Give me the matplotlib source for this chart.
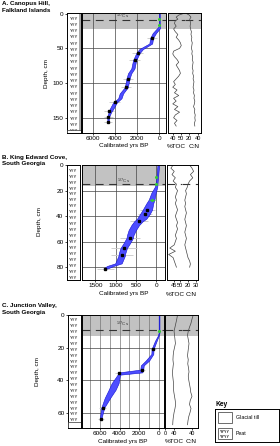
import numpy as np
import matplotlib
matplotlib.use("Agg")
import matplotlib.pyplot as plt
from matplotlib.patches import Rectangle

plt.rcParams['font.family'] = ['Liberation Sans', 'DejaVu Sans']

# ---------------- data ----------------
# A. Canopus Hill
a_depth = [0, 18, 21, 28, 35, 43, 51, 57, 67, 79, 86, 94, 106, 115, 122, 128, 137, 142, 149, 157]
a_young = [-40, -40, -60, 300, 560, 640, 1470, 1780, 2080, 2230, 2520, 2680, 2830, 3250, 3400, 3820, 4130, 4330, 4520, 4560]
a_old = [40, 40, 200, 600, 820, 900, 1800, 2080, 2360, 2520, 2820, 2960, 3100, 3560, 3700, 4150, 4450, 4560, 4680, 4660]
a_date_depth = [35, 57, 67, 94, 106, 128, 140, 149, 156]
a_date_age = [690, 1930, 2220, 2820, 2960, 3990, 4480, 4590, 4600]
a_date_err = [450, 500, 500, 450, 450, 500, 450, 400, 350]
a_pb_depth = [8, 16]
a_pb_age = [0, 0]
a_geo_depth = [0, 2, 5, 8, 10, 14, 18, 22, 26, 30, 34, 38, 42, 46, 50, 54, 58, 62, 66, 70, 74, 78,
               82, 86, 90, 94, 98, 102, 106, 110, 114, 118, 122, 126, 130, 134, 138, 142, 146, 150, 154, 158, 162]
a_toc = [52, 47, 44, 46, 43, 42, 44, 41, 43, 46, 44, 47, 49, 50, 48, 41, 40, 42, 45, 47, 44, 46,
         48, 49, 47, 44, 41, 43, 40, 45, 42, 47, 41, 44, 40, 46, 42, 48, 43, 41, 45, 42, 44]
a_cn = [14, 20, 24, 21, 22, 23, 22, 23, 25, 24, 26, 25, 27, 26, 25, 27, 26, 28, 27, 29, 28, 27,
        29, 28, 30, 29, 31, 30, 29, 31, 30, 32, 31, 33, 32, 30, 33, 32, 34, 33, 34, 32, 33]

# B. King Edward Cove
b_depth = [0, 14, 17, 22, 27, 30, 35, 38, 42, 44, 47, 51, 55, 57, 61, 65, 69, 71, 74, 77, 79, 81]
b_young = [-75, -35, -30, 10, 40, 70, 100, 150, 240, 330, 420, 500, 560, 570, 640, 720, 760, 770, 810, 850, 1050, 1200]
b_old = [-35, 0, 30, 120, 180, 240, 330, 390, 470, 540, 610, 680, 720, 730, 800, 880, 920, 930, 970, 1010, 1210, 1300]
b_date_depth = [35, 38, 44, 57, 65, 70.5, 81]
b_date_age = [215, 270, 430, 650, 800, 845, 1250]
b_date_err = [180, 180, 220, 250, 320, 280, 220]
b_pb_depth = [9, 15, 27]
b_pb_age = [0, 0, 105]
b_pb_err = [0, 0, 70]
b_geo_depth = [0, 2.5, 5, 7.5, 10, 12.5, 15, 17.5, 20, 22.5, 25, 27.5, 30, 32.5, 35, 37.5, 40,
               42.5, 45, 47.5, 50, 52.5, 55, 57.5, 60, 62.5, 65, 67.5, 70, 72.5, 75, 77.5, 80]
b_toc = [44, 42, 45, 43, 46, 44, 47, 46, 48, 47, 46, 47, 46, 47, 48, 47, 46,
         47, 48, 47, 48, 47, 46, 47, 46, 45, 41, 46, 40, 44, 45, 46, 47]
b_cn = [22, 25, 27, 23, 26, 22, 20, 19, 17, 18, 17, 16, 17, 16, 17, 18, 17,
        16, 17, 18, 17, 16, 17, 18, 17, 16, 17, 18, 19, 20, 22, 23, 22]

# C. Junction Valley
c_depth = [0, 11, 13, 16, 21, 24, 28, 31, 33.6, 35.3, 36.7, 42, 46, 51, 57, 64]
c_young = [-40, -40, 50, 250, 560, 580, 1000, 1550, 1600, 1700, 3950, 4100, 4400, 4950, 5550, 5850]
c_old = [40, 40, 150, 420, 760, 780, 1350, 1850, 1900, 4050, 4200, 4800, 5100, 5500, 5850, 6000]
c_date_depth = [21, 34, 35.5, 57, 64]
c_date_age = [650, 1750, 4100, 5700, 5900]
c_date_err = [300, 350, 400, 350, 300]
c_pb_depth = [10]
c_pb_age = [0]
c_geo_depth = [0, 2.5, 5, 7.5, 10, 12.5, 15, 17.5, 20, 22.5, 25, 27.5, 30, 32.5,
               35, 37.5, 40, 42.5, 45, 47.5, 50, 52.5, 55, 57.5, 60, 62.5, 65, 67.5]
c_toc = [55, 52, 48, 44, 40, 42, 44, 46, 42, 38, 36, 35, 37, 35,
         33, 34, 36, 38, 37, 39, 42, 45, 47, 44, 40, 37, 35, 34]
c_cn = [45, 40, 36, 30, 25, 22, 25, 28, 26, 24, 22, 25, 23, 26,
        28, 25, 27, 30, 33, 35, 40, 33, 30, 36, 32, 27, 24, 22]

# ---------------- layout helpers ----------------
W, H = 280, 446
fig = plt.figure(figsize=(W / 100, H / 100), dpi=100)


def rect(x0, y0, x1, y1):
    return [x0 / W, 1 - y1 / H, (x1 - x0) / W, (y1 - y0) / H]


FS = 4.6
FS_R = 4.1
GREY = '#c2c2c2'
BLUE = '#4d4dff'
EDGE = '#1010d0'


def style(ax, fs=FS):
    for s in ax.spines.values():
        s.set_linewidth(0.7)
    ax.tick_params(labelsize=fs, length=1.5, width=0.5, pad=1)


def peat_column(ax, ylim, till=None, strip=False):
    ax.set_xlim(0, 1)
    ax.set_ylim(*ylim)
    ax.set_xticks([])
    style(ax)
    rows = np.arange(0.02, 0.99, 0.052)
    for r in rows:
        ax.text(0.47, r, 'ʏʏʏ', transform=ax.transAxes, ha='center', va='center',
                fontsize=3.8, color='#222')
    if till is not None:
        ax.add_patch(Rectangle((0, till[0]), 1, till[1] - till[0], facecolor='white',
                               edgecolor='#333', lw=0.5, zorder=3))
    if strip:
        ax.add_patch(Rectangle((0.88, 0), 0.12, 1, transform=ax.transAxes,
                               facecolor='#aaaaaa', lw=0, zorder=2))


def main_panel(ax, xlim, ylim, xticks, xgrid, ygrid, grey_to, dash_at, cs_xy,
               depth, young, old, dd, da, de, pbd, pba, pbe, vcol='#444'):
    ax.set_xlim(*xlim)
    ax.set_ylim(*ylim)
    style(ax)
    ax.set_yticks([])
    ax.set_xticks(xticks)
    ax.set_xticklabels([str(t) for t in xticks])
    ax.axhspan(ylim[1], grey_to, color=GREY, zorder=0, lw=0)
    for g in xgrid:
        ax.axvline(g, color=vcol, lw=0.5, zorder=0.5)
    for g in ygrid:
        ax.axhline(g, color='#444', lw=0.5, zorder=0.5)
    ax.axhline(dash_at, color='#333', lw=0.8, ls=(0, (7, 5)), zorder=1)
    ax.text(cs_xy[0], cs_xy[1], r'$^{137}$Cs', fontsize=3.2, ha='center', va='center', color='#333')
    ax.errorbar(da, dd, xerr=de, fmt='none', ecolor='#c8c8c8', elinewidth=0.6, zorder=1.5)
    ax.fill_betweenx(depth, young, old, facecolor=BLUE, edgecolor=EDGE, lw=0.4, zorder=2)
    ax.plot(da, dd, 's', color='black', ms=1.6, zorder=3)
    ax.errorbar(pba, pbd, xerr=pbe, fmt='o', color='#33cc33', ms=1.2, elinewidth=0.6, zorder=3)


def geo_panels(ax_t, ax_c, ylim, grey_to, dash_at, tlim, tticks, clim, cticks, gd, toc, cn, grey=True):
    for ax, lim, ticks, vals in ((ax_t, tlim, tticks, toc), (ax_c, clim, cticks, cn)):
        ax.set_xlim(*lim)
        ax.set_ylim(*ylim)
        style(ax, FS_R)
        ax.set_yticks([])
        ax.set_xticks(ticks)
        if grey:
            ax.axhspan(ylim[1], grey_to, color=GREY, zorder=0, lw=0)
        ax.axhline(dash_at, color='#333', lw=0.8, ls=(0, (7, 5)), zorder=1)
        ax.plot(vals, gd, color='#444', lw=0.5, zorder=2)
    ax_t.spines['right'].set_visible(False)
    ax_c.spines['left'].set_visible(False)


def labels(title1, title2, ty, main_x, right_t, right_c, ly, depth_x, depth_y):
    fig.text(2 / W, 1 - ty / H, title1, fontsize=4.5, fontweight='bold', va='center')
    fig.text(2 / W, 1 - (ty + 6.5) / H, title2, fontsize=4.5, fontweight='bold', va='center')
    fig.text(main_x / W, 1 - ly / H, 'Calibrated yrs BP', fontsize=FS, ha='center', va='center')
    fig.text(right_t / W, 1 - ly / H, '%TOC', fontsize=FS, ha='center', va='center')
    fig.text(right_c / W, 1 - ly / H, 'C:N', fontsize=FS, ha='center', va='center')
    fig.text(depth_x / W, 1 - depth_y / H, 'Depth, cm', fontsize=FS, rotation=90,
             ha='center', va='center')


# ---------------- panel A ----------------
ylA = (172, -1)
colA = fig.add_axes(rect(67, 13, 81, 133))
peat_column(colA, ylA, till=(168, 172), strip=True)
colA.set_yticks([0, 50, 100, 150])
mainA = fig.add_axes(rect(82, 13, 166, 133))
main_panel(mainA, (6950, -600), ylA, [6000, 4000, 2000, 0], [6000, 4000, 2000, 0],
           [50, 100, 150], 21.5, 8.7, (3300, 4), a_depth, a_young, a_old,
           a_date_depth, a_date_age, a_date_err, a_pb_depth, a_pb_age, [0, 0])
tocA = fig.add_axes(rect(168, 13, 185, 133))
cnA = fig.add_axes(rect(185, 13, 201, 133))
geo_panels(tocA, cnA, ylA, 21.5, 8.7, (34.4, 54.4), [40, 50], (10, 47.5), [20, 40],
           a_geo_depth, a_toc, a_cn)
labels('A. Canopus Hill,', 'Falkland Islands', 4, 124, 176, 194, 146, 47, 73)

# ---------------- panel B ----------------
ylB = (90, 0)
colB = fig.add_axes(rect(67, 165, 80, 280))
peat_column(colB, ylB)
colB.set_yticks([0, 20, 40, 60, 80])
mainB = fig.add_axes(rect(82, 165, 165, 280))
main_panel(mainB, (1830, -220), ylB, [1500, 1000, 500, 0], [1500, 1000, 500, 0],
           [20, 40, 60, 80], 16.5, 15, (815, 13), b_depth, b_young, b_old,
           b_date_depth, b_date_age, b_date_err, b_pb_depth, b_pb_age, b_pb_err)
tocB = fig.add_axes(rect(167, 165, 182, 280))
cnB = fig.add_axes(rect(182, 165, 198, 280))
geo_panels(tocB, cnB, ylB, 16.5, 15, (38.5, 52), [45, 50], (12.5, 32.5), [20, 30],
           b_geo_depth, b_toc, b_cn, grey=False)
labels('B. King Edward Cove,', 'South Georgia', 157, 124, 175, 191, 294, 40, 222)

# ---------------- panel C ----------------
ylC = (69.5, 0)
colC = fig.add_axes(rect(68, 315, 81, 428))
peat_column(colC, ylC, till=(66, 69.5))
colC.set_yticks([0, 20, 40, 60])
mainC = fig.add_axes(rect(82, 315, 164, 428))
main_panel(mainC, (7800, -500), ylC, [6000, 4000, 2000, 0], list(range(0, 8000, 1000)),
           [20, 40, 60], 13, 9.2, (3700, 6), c_depth, c_young, c_old,
           c_date_depth, c_date_age, c_date_err, c_pb_depth, c_pb_age, [0], vcol='#777')
tocC = fig.add_axes(rect(165, 315, 182, 428))
cnC = fig.add_axes(rect(182, 315, 198, 428))
geo_panels(tocC, cnC, ylC, 13, 9.2, (0, 75), [0, 40], (0, 64), [40],
           c_geo_depth, c_toc, c_cn)
labels('C. Junction Valley,', 'South Georgia', 306, 123, 174, 191, 441.5, 37, 371)

# ---------------- key ----------------
fig.text(215 / W, 1 - 404 / H, 'Key', fontsize=4.8, fontweight='bold', va='center')
key = fig.add_axes(rect(215, 409, 279, 442))
key.set_xlim(0, 64)
key.set_ylim(33, 0)
key.set_xticks([])
key.set_yticks([])
style(key)
key.add_patch(Rectangle((3, 3), 14, 11, facecolor='white', edgecolor='#333', lw=0.5))
key.text(21, 8.5, 'Glacial till', fontsize=3.8, va='center')
key.add_patch(Rectangle((3, 19), 14, 11, facecolor='white', edgecolor='#333', lw=0.5))
key.text(10, 22.5, 'ʏʏʏʏ', fontsize=3.4, ha='center', va='center')
key.text(10, 27, 'ʏʏʏʏ', fontsize=3.4, ha='center', va='center')
key.text(21, 24.5, 'Peat', fontsize=3.8, va='center')

fig.savefig('out.png', dpi=100)
